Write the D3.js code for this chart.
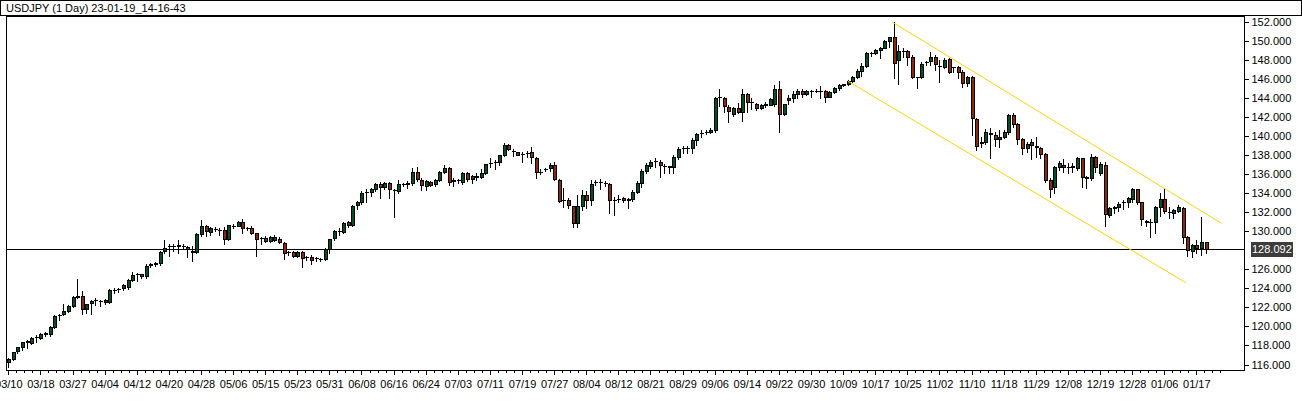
<!DOCTYPE html>
<html><head><meta charset="utf-8">
<script src="https://cdn.jsdelivr.net/npm/d3@7"></script>
<style>html,body{margin:0;padding:0;background:#fff;overflow:hidden}svg{display:block}</style>
</head><body><svg id="c" width="1302" height="411"></svg>
<script>
const titleText = "USDJPY (1 Day) 23-01-19_14-16-43";
const open = [116.23,116.58,117.46,117.88,118.40,118.30,118.85,118.82,119.20,119.21,119.98,121.15,121.31,121.66,122.15,123.10,123.20,121.80,122.43,122.78,122.70,122.60,122.60,123.83,123.90,124.00,124.11,124.92,125.50,125.48,
125.33,126.45,126.60,126.63,127.90,128.45,128.50,128.50,128.50,128.31,127.96,127.78,129.70,130.59,129.89,130.25,130.15,130.13,129.15,130.60,130.59,130.94,130.31,130.38,129.78,129.25,129.29,129.01,129.10,129.18,
128.73,127.80,127.78,127.43,127.78,127.33,127.33,127.16,127.05,127.05,128.10,129.25,130.06,129.95,130.93,130.66,132.72,133.10,134.10,134.15,134.40,134.96,134.68,135.03,134.36,134.26,134.96,134.93,135.10,136.19,
135.35,134.79,135.14,134.93,135.38,136.26,136.61,135.31,135.35,135.21,136.08,135.45,135.73,135.66,136.08,137.15,137.24,137.24,138.00,139.06,138.46,138.29,138.10,138.25,138.29,137.66,136.26,136.50,136.61,136.96,
135.38,133.28,133.28,132.65,130.90,132.65,133.81,133.28,135.14,135.14,135.10,134.96,133.28,133.39,133.46,133.35,133.39,134.12,135.10,136.37,136.85,137.38,137.31,136.85,136.78,136.78,137.76,138.71,138.71,138.71,
139.59,140.33,140.46,140.46,140.63,144.10,143.96,143.09,142.28,142.91,142.56,144.38,143.54,143.33,142.98,143.30,143.30,143.33,144.94,142.28,143.78,144.03,144.42,144.73,144.45,144.75,144.77,144.73,144.73,144.14,
144.59,145.08,145.41,145.43,145.78,146.20,146.83,147.39,148.69,148.76,149.00,149.28,149.98,150.37,148.00,148.90,148.93,148.27,146.20,146.17,147.75,147.92,148.34,147.40,147.29,148.06,147.29,147.22,146.76,145.60,
146.17,141.75,139.30,139.40,140.35,140.11,139.65,139.93,140.39,142.21,141.26,139.65,138.71,139.34,138.99,138.71,138.11,135.38,134.68,136.78,136.96,136.76,136.78,136.61,137.66,135.73,135.56,137.83,136.08,136.96,
131.71,132.48,132.51,133.02,133.04,133.35,134.40,133.04,131.00,131.00,131.00,132.58,133.35,132.06,131.88,132.16,132.41,129.36,127.96,128.56,128.21,128.83];
const high = [116.65,117.35,117.88,118.41,118.60,118.93,119.10,119.30,119.38,120.09,121.20,121.31,122.36,122.22,123.20,124.98,123.73,122.40,122.75,123.02,122.80,122.85,123.90,124.00,124.08,124.50,124.95,125.75,125.65,125.55,
126.53,126.70,126.80,127.95,129.10,128.65,128.70,129.10,128.70,128.50,128.40,129.78,131.18,130.70,130.45,130.40,130.30,130.45,130.70,130.75,131.05,131.29,130.45,130.60,129.85,129.43,129.45,129.50,129.60,129.35,
128.83,127.95,127.95,127.90,127.90,127.45,127.50,127.30,127.20,128.20,129.20,130.15,130.30,130.95,131.10,132.72,133.20,134.20,134.40,134.50,135.10,135.20,135.20,135.20,134.45,135.38,135.10,135.30,136.64,136.70,
135.55,135.38,135.30,135.50,136.35,136.96,136.70,135.56,135.50,136.26,136.20,135.90,136.08,136.50,137.10,137.66,137.50,138.05,139.23,139.15,138.60,138.35,138.35,138.46,138.80,137.80,136.50,136.65,137.14,137.30,
135.45,134.50,133.50,132.70,133.81,134.33,134.20,135.38,135.38,135.45,135.30,135.10,133.60,133.80,133.60,133.50,134.30,135.30,136.57,137.20,137.50,137.66,137.45,137.10,136.85,138.00,138.80,138.95,138.95,139.77,
140.35,140.64,140.64,140.82,144.14,144.91,144.14,143.26,143.00,143.44,144.91,144.50,143.96,143.50,143.40,143.54,144.03,145.36,145.80,143.40,144.30,144.70,144.94,144.90,144.85,144.84,144.90,145.29,144.85,144.70,
145.10,145.43,145.50,145.90,146.30,147.01,147.64,148.86,148.80,149.11,149.39,150.09,150.37,151.95,149.60,149.21,149.00,148.51,146.24,147.81,147.92,148.79,148.51,147.99,148.23,148.16,147.30,147.35,146.90,146.34,
146.30,141.90,139.86,140.70,140.81,140.46,140.63,140.63,142.30,142.40,141.40,139.80,139.41,139.65,139.86,138.90,138.20,135.60,136.90,137.38,137.55,137.13,137.13,137.83,137.70,135.80,138.08,137.90,137.30,137.31,
132.50,132.65,133.04,133.28,133.63,134.51,134.45,133.10,131.18,131.25,132.70,134.05,134.50,132.51,132.30,132.76,132.50,129.45,128.65,129.08,131.53,128.90];
const low = [115.78,116.48,117.18,117.53,117.70,118.12,118.40,118.72,119.03,119.00,119.84,120.68,121.17,121.56,122.00,122.95,121.28,121.45,121.30,122.25,122.15,122.40,122.50,123.48,123.66,123.87,123.97,124.78,124.78,125.05,
125.06,126.20,126.35,126.50,127.70,127.43,127.90,127.75,128.20,127.30,126.91,127.70,129.45,129.45,129.60,130.00,129.60,128.62,129.05,130.35,130.55,129.85,130.10,129.75,127.43,128.62,128.90,128.90,129.00,128.73,
127.08,127.50,127.30,127.30,126.28,127.00,126.60,126.90,126.85,126.95,127.68,129.10,129.60,129.80,130.40,130.50,132.30,132.90,133.10,133.70,134.20,133.53,134.40,133.46,131.46,134.00,134.80,134.55,134.90,135.30,
134.33,134.33,134.70,134.80,135.30,136.15,134.86,134.75,135.10,134.97,135.30,135.03,135.38,135.55,136.00,136.72,136.50,136.96,137.90,138.55,137.90,138.00,137.30,137.83,137.13,135.56,135.98,136.30,136.36,135.40,
133.10,132.58,132.48,130.41,130.41,132.23,132.48,132.76,134.86,134.40,134.75,131.95,131.71,133.04,133.10,132.48,133.20,134.00,134.61,136.15,136.60,136.72,135.73,136.15,136.15,136.15,137.55,138.18,138.18,138.25,
139.06,139.93,140.22,140.29,140.46,143.16,142.56,141.51,142.10,142.46,141.60,142.56,142.85,142.74,142.80,143.10,143.26,143.20,140.39,142.20,143.40,143.54,144.00,144.10,144.30,144.10,144.60,144.03,143.54,144.10,
144.50,144.85,145.30,145.36,145.70,146.06,146.30,147.30,148.45,148.59,148.20,149.20,149.39,146.13,145.45,148.34,147.46,146.10,145.08,146.06,147.46,147.46,146.94,145.64,147.11,146.59,146.76,146.06,145.19,145.29,
140.11,138.50,138.88,139.20,137.66,138.99,138.88,139.80,140.20,140.98,139.16,138.11,138.36,137.55,137.83,137.66,135.21,133.63,134.05,136.43,136.26,136.15,136.26,136.43,134.61,134.50,135.40,136.26,135.90,130.55,
131.53,131.88,132.16,132.30,132.58,133.11,132.86,130.66,130.55,129.43,129.85,131.60,131.88,131.36,131.36,132.05,128.80,127.40,127.26,127.68,127.50,127.75];
const close = [116.55,117.28,117.81,118.34,118.45,118.76,118.87,119.17,119.28,119.91,121.10,121.20,121.62,122.15,123.13,123.20,121.80,122.36,122.67,122.80,122.68,122.78,123.83,123.86,123.97,124.35,124.88,125.40,125.51,125.34,
126.38,126.52,126.63,127.85,128.20,128.48,128.48,128.52,128.47,128.13,127.78,129.68,130.59,129.99,130.31,130.24,130.13,129.15,130.62,130.59,130.94,130.31,130.33,129.85,129.15,129.26,129.01,129.36,129.36,128.83,
127.68,127.78,127.43,127.78,127.15,127.33,126.98,127.16,127.05,128.13,129.15,130.06,130.02,130.83,130.66,132.65,133.07,134.05,134.16,134.40,134.93,134.68,135.03,134.40,134.33,134.96,134.98,135.10,136.22,135.49,
134.82,135.24,134.89,135.38,136.26,136.61,135.21,135.33,135.38,136.08,135.49,135.80,135.75,136.08,137.06,137.20,137.27,138.00,139.06,138.60,138.46,138.04,138.11,138.25,137.76,136.19,136.26,136.50,136.96,135.45,
133.21,133.28,132.72,130.90,132.65,133.81,133.28,134.96,135.21,135.14,135.10,133.28,133.30,133.40,133.25,133.30,134.09,135.03,136.33,136.96,137.31,137.40,136.92,136.87,136.80,137.76,138.64,138.73,138.70,139.59,
140.21,140.36,140.47,140.63,143.96,144.14,143.16,142.67,142.91,142.56,144.38,143.54,143.54,142.98,143.26,143.33,143.89,144.94,142.28,143.33,144.03,144.42,144.73,144.45,144.73,144.77,144.77,144.75,144.14,144.59,
145.01,145.36,145.43,145.78,146.20,146.83,147.39,148.76,148.70,149.00,149.28,149.98,150.37,147.71,148.93,148.93,148.34,146.24,146.17,147.57,147.81,148.34,147.53,147.39,147.99,146.69,147.25,146.76,145.60,146.17,
141.86,138.95,139.34,140.39,140.18,139.65,139.93,140.42,142.21,141.26,139.65,138.71,139.16,139.06,138.81,138.11,135.38,134.40,136.78,137.13,136.71,136.78,136.80,137.66,135.73,135.56,137.83,136.78,137.03,131.78,
132.41,132.51,132.86,133.04,133.46,134.40,133.11,131.25,131.03,131.02,132.58,133.35,132.16,132.05,132.23,132.51,129.36,128.03,128.55,128.21,128.83,128.09];
const tickLabels = ["03/10","03/18","03/27","04/04","04/12","04/20","04/28","05/06","05/15","05/23","05/31","06/08","06/16","06/24","07/03","07/11","07/19","07/27","08/04","08/12","08/21","08/29","09/06","09/14","09/22","09/30","10/09","10/17","10/25","11/02","11/10","11/18","11/29","12/08","12/19","12/28","01/06","01/17"];
const barsPerLabel = 7;
const priceTicks = [152,150,148,146,144,142,140,138,136,134,132,130,126,124,122,120,118,116];
const lastPrice = 128.092;
const upperChannel = [[192.7,151.98],[264.5,130.83]];
const lowerChannel = [[183.0,145.78],[256.7,124.6]];

const W=1302,H=411;
const plot={left:6,top:16,right:1244,bottom:370};
const svg=d3.select("#c");
svg.append("rect").attr("width",W).attr("height",H).attr("fill","#fff");

const x=d3.scaleLinear().domain([0,259]).range([8.3,8.3+259*4.587]);
const y=d3.scaleLinear().domain([116,152]).range([364.5,21.8]);

const FONT="'Liberation Sans', Arial, sans-serif";
const bullCol="#005028", bearCol="#8b2a08";

svg.append("defs").append("clipPath").attr("id","pc").append("rect")
  .attr("x",plot.left+1).attr("y",plot.top+1).attr("width",plot.right-plot.left-1).attr("height",plot.bottom-plot.top-1);
const g=svg.append("g").attr("clip-path","url(#pc)").attr("shape-rendering","crispEdges");

// current price line
g.append("line").attr("x1",plot.left).attr("x2",plot.right)
 .attr("y1",Math.round(y(lastPrice))+0.5).attr("y2",Math.round(y(lastPrice))+0.5)
 .attr("stroke","#000").attr("stroke-width",1);

// channel lines
const line=d3.line().x(d=>x(d[0])).y(d=>y(d[1]));
[upperChannel,lowerChannel].forEach(c=>{
  svg.append("path").attr("clip-path","url(#pc)").attr("d",line(c)).attr("fill","none")
   .attr("stroke","#ffd200").attr("stroke-width",1);
});

// candles
const idx=d3.range(open.length);
g.selectAll("g.c").data(idx).join("g").attr("class","c").each(function(i){
  const s=d3.select(this);
  const cx=Math.round(x(i));
  const yh=Math.round(y(high[i])), yl=Math.round(y(low[i]));
  s.append("rect").attr("x",cx).attr("y",yh).attr("width",1).attr("height",Math.max(1,yl-yh+1)).attr("fill","#000");
  const top=Math.round(y(Math.max(open[i],close[i]))), bot=Math.round(y(Math.min(open[i],close[i])));
  s.append("rect").attr("x",cx-1).attr("y",top).attr("width",4).attr("height",Math.max(1,bot-top+1)).attr("fill","#000");
  if(bot-top>=2){
    s.append("rect").attr("x",cx).attr("y",top+1).attr("width",2).attr("height",bot-top-1)
     .attr("fill",close[i]>=open[i]?bullCol:bearCol);
  }
});

// frames
svg.append("rect").attr("x",0.5).attr("y",0.5).attr("width",W-1).attr("height",15)
  .attr("fill","none").attr("stroke","#000").attr("shape-rendering","crispEdges");
svg.append("text").attr("x",6).attr("y",12).attr("font-family",FONT).attr("font-size",11).attr("fill","#000").text(titleText);
svg.append("rect").attr("x",plot.left+0.5).attr("y",plot.top+0.5).attr("width",plot.right-plot.left).attr("height",plot.bottom-plot.top)
  .attr("fill","none").attr("stroke","#000").attr("stroke-width",1).attr("shape-rendering","crispEdges");

// price axis
const pa=svg.append("g").attr("transform",`translate(${plot.right+0.5},0)`);
pa.call(d3.axisRight(y).tickValues(priceTicks).tickFormat(d3.format(".3f")).tickSize(4).tickPadding(3))
  .call(a=>a.select(".domain").remove());
pa.selectAll("text").attr("font-family",FONT).attr("font-size",11).attr("fill","#000");
pa.selectAll("line").attr("shape-rendering","crispEdges");

// current price label
const ly=Math.round(y(lastPrice));
svg.append("rect").attr("x",plot.right+7).attr("y",ly-7).attr("width",42).attr("height",15).attr("fill","#3c3c3c");
svg.append("text").attr("x",plot.right+8).attr("y",ly+4).attr("font-family",FONT).attr("font-size",11).attr("fill","#fff").text(lastPrice.toFixed(3));

// time axis
const ta=svg.append("g").attr("transform",`translate(0,${plot.bottom+0.5})`);
const tickIdx=tickLabels.map((d,k)=>k*barsPerLabel);
const minorIdx=d3.range(0,tickLabels.length*barsPerLabel,barsPerLabel/4).filter(v=>v%barsPerLabel!==0);
ta.selectAll("line.minor").data(minorIdx).join("line").attr("class","minor")
  .attr("x1",d=>Math.round(x(d))+0.5).attr("x2",d=>Math.round(x(d))+0.5).attr("y1",0).attr("y2",2)
  .attr("stroke","#000").attr("shape-rendering","crispEdges");
ta.call(d3.axisBottom(x).tickValues(tickIdx).tickFormat((d,k)=>tickLabels[k]).tickSize(4).tickPadding(6))
  .call(a=>a.select(".domain").remove());
ta.selectAll("text").attr("font-family",FONT).attr("font-size",11).attr("fill","#000");
ta.selectAll("line").attr("shape-rendering","crispEdges");
</script></body></html>
